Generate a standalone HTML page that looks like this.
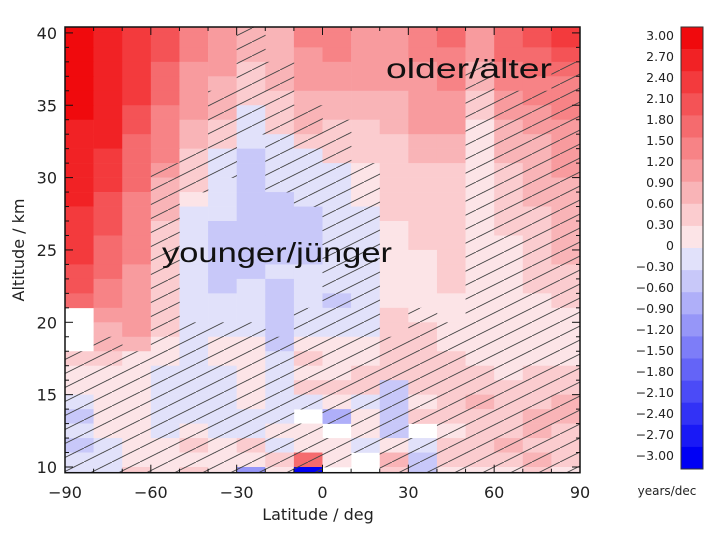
<!DOCTYPE html>
<html><head><meta charset="utf-8"><style>
body{margin:0;background:#fff;}
svg{display:block;font-family:"DejaVu Sans","Liberation Sans",sans-serif;}
</style></head><body>
<svg id="chart" width="720" height="540" viewBox="0 0 720 540" xmlns="http://www.w3.org/2000/svg">
<defs>
<clipPath id="plotclip"><rect x="65" y="27" width="515" height="445.7"/></clipPath>
<pattern id="hatch" patternUnits="userSpaceOnUse" width="28" height="14">
<line x1="0" y1="14" x2="28" y2="0" stroke="#444" stroke-width="0.9"/>
</pattern>
</defs>
<g id="cells" clip-path="url(#plotclip)"></g>
<g id="hatches" clip-path="url(#plotclip)"></g>
<g id="axes"></g>
<g id="cbar"></g>
<text x="386" y="78" font-family="Liberation Sans, sans-serif" font-size="28" fill="#111" textLength="166" lengthAdjust="spacingAndGlyphs">older/älter</text>
<text x="162" y="262" font-family="Liberation Sans, sans-serif" font-size="28" fill="#111" textLength="230" lengthAdjust="spacingAndGlyphs">younger/jünger</text>
<text x="318" y="520" font-size="16" fill="#222" text-anchor="middle">Latitude / deg</text>
<text x="24" y="250" font-size="16" fill="#222" text-anchor="middle" transform="rotate(-90 24 250)">Altitude / km</text>
<text x="667" y="495" font-size="12" fill="#222" text-anchor="middle">years/dec</text>
</svg>
<script>
const latitudes=[-85,-75,-65,-55,-45,-35,-25,-15,-5,5,15,25,35,45,55,65,75,85];
const altitudes=[40,39,38,37,36,35,34,33,32,31,30,29,28,27,26,25,24,23,22,21,20,19,18,17,16,15,14,13,12,11,10,9];
const xTicks=[-90,-60,-30,0,30,60,90];
const yTicks=[10,15,20,25,30,35,40];
const cbarLabels=["3.00","2.70","2.40","2.10","1.80","1.50","1.20","0.90","0.60","0.30","0","\u22120.30","\u22120.60","\u22120.90","\u22121.20","\u22121.50","\u22121.80","\u22122.10","\u22122.40","\u22122.70","\u22123.00"];
// band-level readings (years/dec), null = no data
const r00=[2.9,2.6,2.3,2.0,1.4,1.1,0.8,0.8,1.4,1.4,1.1,1.1,1.4,1.7,1.1,1.7,2.0,2.3];
const r01=[2.9,2.6,2.3,2.0,1.4,1.1,0.8,0.8,1.4,1.4,1.1,1.1,1.4,1.7,1.1,1.7,2.0,2.3];
const r02=[2.9,2.6,2.3,2.0,1.4,1.1,0.8,0.8,1.1,1.4,1.1,1.1,1.4,1.4,1.1,1.7,1.7,2.0];
const r03=[2.9,2.6,2.3,1.7,1.1,1.1,0.5,0.8,1.1,1.1,1.1,1.1,1.1,1.4,0.8,1.4,1.7,1.7];
const r04=[2.9,2.6,2.3,1.7,1.1,0.8,0.5,0.8,1.1,1.1,1.1,1.1,1.1,1.4,0.8,1.4,1.4,1.4];
const r05=[2.9,2.6,2.3,1.7,1.1,0.8,0.5,0.5,0.8,0.8,0.8,0.8,1.1,1.1,0.5,1.1,1.4,1.4];
const r06=[2.9,2.6,2.0,1.4,1.1,0.8,-0.2,0.5,0.8,0.8,0.8,0.8,1.1,1.1,0.5,1.1,1.1,1.4];
const r07=[2.6,2.6,2.0,1.4,0.8,0.5,-0.2,0.5,0.8,0.5,0.5,0.8,1.1,1.1,0.2,0.8,1.1,1.1];
const r08=[2.6,2.6,1.7,1.4,0.8,0.5,-0.2,-0.2,0.5,0.5,0.5,0.5,0.8,0.8,0.2,0.8,0.8,1.1];
const r09=[2.6,2.3,1.7,1.4,0.5,-0.2,-0.5,-0.2,-0.2,0.5,0.5,0.5,0.8,0.8,0.2,0.8,0.8,1.1];
const r10=[2.6,2.3,1.7,1.1,0.5,-0.2,-0.5,-0.2,-0.2,-0.2,0.2,0.5,0.5,0.5,0.2,0.5,0.8,1.1];
const r11=[2.6,2.3,1.7,0.8,0.5,-0.2,-0.5,-0.2,-0.2,-0.2,0.2,0.5,0.5,0.5,0.2,0.5,0.8,0.8];
const r12=[2.6,2.0,1.4,0.8,0.2,-0.2,-0.5,-0.5,-0.2,-0.2,0.2,0.5,0.5,0.5,0.2,0.5,0.8,0.8];
const r13=[2.3,2.0,1.4,0.8,-0.2,-0.2,-0.5,-0.5,-0.5,-0.2,-0.2,0.5,0.5,0.5,0.2,0.5,0.5,0.8];
const r14=[2.3,2.0,1.4,0.5,-0.2,-0.5,-0.5,-0.5,-0.5,-0.2,-0.2,0.2,0.5,0.5,0.2,0.5,0.5,0.8];
const r15=[2.3,1.7,1.4,0.5,-0.2,-0.5,-0.5,-0.5,-0.5,-0.2,-0.2,0.2,0.5,0.5,0.2,0.2,0.5,0.8];
const r16=[2.3,1.7,1.4,0.5,-0.2,-0.5,-0.5,-0.5,-0.5,-0.2,-0.2,0.2,0.2,0.5,0.2,0.2,0.5,0.8];
const r17=[2.0,1.7,1.1,0.5,-0.2,-0.5,-0.5,-0.2,-0.2,-0.2,-0.2,0.2,0.2,0.5,0.2,0.2,0.5,0.5];
const r18=[2.0,1.4,1.1,0.5,-0.2,-0.5,-0.2,-0.5,-0.2,-0.2,-0.2,0.2,0.2,0.5,0.2,0.2,0.5,0.5];
const r19=[1.7,1.4,1.1,0.5,-0.2,-0.2,-0.2,-0.5,-0.2,-0.5,-0.2,0.2,0.2,0.2,0.2,0.2,0.2,0.5];
const r20=[null,1.1,1.1,0.5,-0.2,-0.2,-0.2,-0.5,-0.2,-0.2,-0.2,0.5,0.2,0.2,0.2,0.2,0.2,0.2];
const r21=[null,0.8,1.1,0.5,-0.2,-0.2,-0.2,-0.5,-0.2,-0.2,-0.2,0.5,0.5,0.2,0.2,0.2,0.2,0.2];
const r22=[null,0.8,0.8,0.2,-0.2,0.2,0.2,-0.5,0.2,0.2,0.2,0.5,0.5,0.2,0.2,0.2,0.2,0.2];
const r23=[0.5,0.5,0.2,0.2,-0.2,0.2,0.2,-0.2,0.5,0.2,0.2,0.5,0.5,0.5,0.2,0.2,0.2,0.2];
const r24=[0.2,0.2,0.2,-0.2,-0.2,-0.2,0.2,-0.2,0.2,0.2,0.5,0.5,0.5,0.5,0.5,0.2,0.5,0.5];
const r25=[0.2,0.2,0.2,-0.2,-0.2,-0.2,0.2,-0.2,0.5,0.5,0.5,-0.5,0.5,0.5,0.5,0.5,0.5,0.5];
const r26=[-0.2,0.2,0.2,-0.2,-0.2,-0.2,0.2,-0.2,-0.2,0.2,-0.2,-0.5,0.2,0.5,0.8,0.5,0.5,0.8];
const r27=[-0.5,0.2,0.2,-0.2,-0.2,-0.2,-0.2,-0.2,null,-0.8,0.2,-0.5,0.5,0.5,0.5,0.5,0.8,0.8];
const r28=[-0.2,0.2,0.2,-0.2,0.2,-0.2,-0.2,0.2,0.2,null,0.2,-0.5,null,0.2,0.5,0.5,0.8,0.5];
const r29=[-0.5,-0.2,0.2,0.2,0.5,0.2,0.5,-0.2,0.2,0.2,-0.2,0.2,-0.2,0.5,0.5,0.8,0.5,0.5];
const r30=[-0.2,-0.2,0.2,0.2,0.2,0.2,0.2,0.5,1.7,0.2,null,0.8,-0.5,0.5,0.5,0.5,0.8,0.5];
const r31=[-0.2,-0.2,0.5,0.2,0.5,0.2,-1.1,0.2,-2.9,null,null,0.5,-0.5,0.2,0.2,0.2,0.5,0.2];
const values=[r00,r01,r02,r03,r04,r05,r06,r07,r08,r09,r10,r11,r12,r13,r14,r15,r16,r17,r18,r19,r20,r21,r22,r23,r24,r25,r26,r27,r28,r29,r30,r31];
const hatchRows=["000000100000000000","000000100000000000","000000100000000000","000000110000001001","000000110000001001","000001110000001111","000001111000001111","000001111100001111","000001011100001111","000011011100001111","000111011110001111","000110011110001111","000100001110001111","000100000110001111","000100000110001111","000100000110001111","000100000110001111","000100000110001111","000100000110001111","000100000110001111","000100001110101111","000111101110111111","010111111111111111","111111111111111111","111111111111111111","111111111111111111","111111111111111111","111111111111111111","111111111111111111","111111111111111111","111111111111111111","111111111111111111"];

const NS="http://www.w3.org/2000/svg";
const X0=65,X1=580,Y10=467,PXKM=14.47;
const xs=lat=>X0+(lat+90)*(X1-X0)/180;
const ys=alt=>Y10-(alt-10)*PXKM;
function color(v){
  let b=Math.min(9,Math.floor(Math.abs(v)/0.3));
  const t=b/9;
  if(v>=0){const r=Math.round(252-12*t),g=Math.round(228-218*t);return `rgb(${r},${g},${Math.round(g+3)})`;}
  const g=Math.round(225-225*t);return `rgb(${g},${g},${Math.round(250-5*t)})`;
}
function mk(tag,attrs,parent){const e=document.createElementNS(NS,tag);for(const k in attrs)e.setAttribute(k,attrs[k]);parent.appendChild(e);return e;}
const cells=document.getElementById('cells'),hatches=document.getElementById('hatches');
const cw=(X1-X0)/18;
values.forEach((row,i)=>{
  const alt=altitudes[i];
  row.forEach((v,j)=>{
    const x=xs(latitudes[j]-5),y=ys(alt+1);
    if(v!==null){
      const r=mk('rect',{x:x,y:y,width:cw+0.3,height:PXKM+0.3,fill:color(v)},cells);
      
      
      if(hatchRows[i][j]==='1'){
        const h=mk('rect',{x:x,y:y,width:cw+0.3,height:PXKM+0.3,fill:'url(#hatch)'},hatches);
        
        
      }
    }
  });
});
const axes=document.getElementById('axes');
const frame=mk('rect',{x:X0,y:27,width:X1-X0,height:445.7,fill:'none',stroke:'#111','stroke-width':1.5},axes);


for(let lat=-90;lat<=90;lat+=10){
  const x=xs(lat),len=(lat%30===0)?8:4;
  mk('line',{x1:x,y1:472.7,x2:x,y2:472.7-len,stroke:'#111'},axes);
  mk('line',{x1:x,y1:27,x2:x,y2:27+len,stroke:'#111'},axes);
}
for(let a=10;a<=40;a++){
  const y=ys(a),len=(a%5===0)?8:4;
  mk('line',{x1:X0,y1:y,x2:X0+len,y2:y,stroke:'#111'},axes);
  mk('line',{x1:X1,y1:y,x2:X1-len,y2:y,stroke:'#111'},axes);
}
xTicks.forEach(v=>{
  const t=mk('text',{x:xs(v),y:498,'font-size':16,fill:'#222','text-anchor':'middle'},axes);
  t.textContent=v<0?'\u2212'+(-v):String(v);
  
  
});
yTicks.forEach(v=>{
  const t=mk('text',{x:57,y:ys(v)+6,'font-size':16,fill:'#222','text-anchor':'end'},axes);
  t.textContent=String(v);
  
  
});
const cb=document.getElementById('cbar');
const CB0=27,CBH=442/20;
for(let k=0;k<20;k++){
  const mid=3.0-0.3*k-0.15;
  const r=mk('rect',{x:681,y:CB0+k*CBH,width:22,height:CBH+0.3,fill:color(mid)},cb);
  
  
}
mk('rect',{x:681,y:CB0,width:22,height:442,fill:'none',stroke:'#333','stroke-width':1},cb);
cbarLabels.forEach((s,i)=>{
  const t=mk('text',{x:674,y:40+i*21,'font-size':12.5,fill:'#222','text-anchor':'end'},cb);
  t.textContent=s;
  
  
});
</script>
</body></html>
